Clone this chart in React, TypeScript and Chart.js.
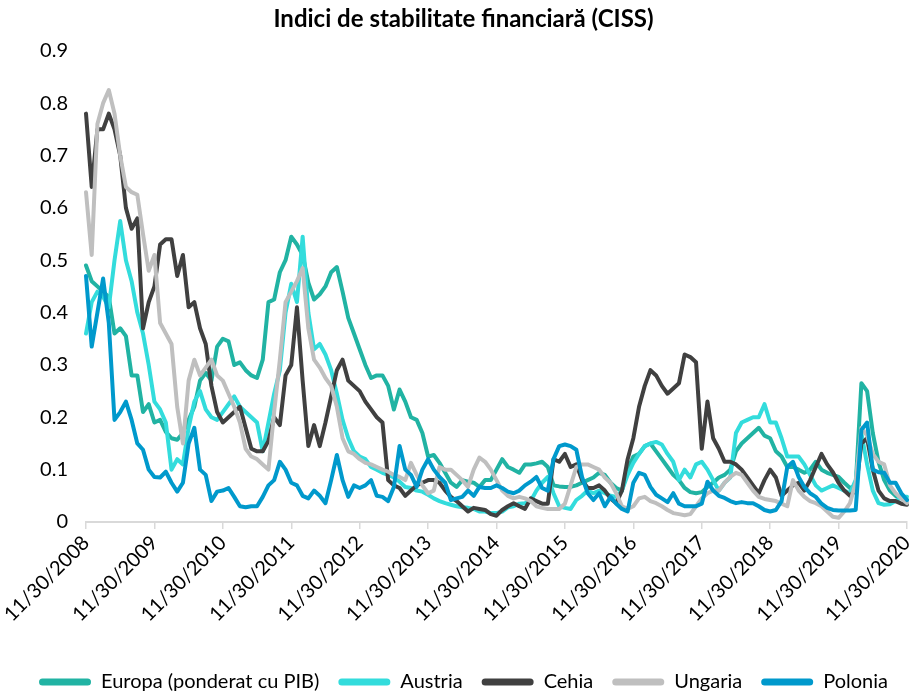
import React, { useEffect, useRef } from 'react';
import { Chart, registerables } from 'chart.js';

Chart.register(...registerables);

const TITLE = 'Indici de stabilitate financiară (CISS)';
const FONT = 'Lato, "DejaVu Sans", sans-serif';

// monthly categories: month-end dates from 11/30/2008 to 11/30/2020
const START_YEAR = 2008;
const START_MONTH = 11;
const MONTH_COUNT = 145;
const TICK_EVERY = 12;
const Y_TICKS = [0, 0.1, 0.2, 0.3, 0.4, 0.5, 0.6, 0.7, 0.8, 0.9];

function monthEnd(i: number): string {
  const m0 = START_MONTH - 1 + i;
  const y = START_YEAR + Math.floor(m0 / 12);
  const m = (m0 % 12) + 1;
  const d = new Date(y, m, 0).getDate();
  return `${m}/${d}/${y}`;
}
const LABELS: string[] = Array.from({ length: MONTH_COUNT }, (_, i) => monthEnd(i));

const SERIES_NAMES = ['Europa (ponderat cu PIB)', 'Austria', 'Cehia', 'Ungaria', 'Polonia'];
const SERIES_COLORS = ['#21b3a3', '#33dcdc', '#404040', '#bfbfbf', '#0099cc'];

const EUROPA = [
  0.49, 0.46, 0.45, 0.44, 0.43, 0.36, 0.37, 0.355, 0.28, 0.28, 0.21, 0.225,
  0.19, 0.195, 0.172, 0.16, 0.157, 0.17, 0.195, 0.22, 0.27, 0.285, 0.27, 0.335,
  0.35, 0.345, 0.30, 0.305, 0.29, 0.28, 0.275, 0.31, 0.42, 0.425, 0.477, 0.50,
  0.545, 0.53, 0.51, 0.457, 0.425, 0.435, 0.45, 0.477, 0.487, 0.44, 0.39, 0.36,
  0.33, 0.30, 0.275, 0.28, 0.28, 0.26, 0.215, 0.253, 0.23, 0.20, 0.195, 0.17,
  0.125, 0.128, 0.113, 0.094, 0.075, 0.067, 0.08, 0.077, 0.075, 0.067, 0.08, 0.08,
  0.10, 0.12, 0.105, 0.10, 0.094, 0.11, 0.11, 0.112, 0.115, 0.105, 0.07, 0.068,
  0.067, 0.067, 0.07, 0.075, 0.08, 0.085, 0.094, 0.09, 0.075, 0.065, 0.06, 0.10,
  0.125, 0.13, 0.145, 0.15, 0.135, 0.12, 0.105, 0.09, 0.08, 0.065, 0.057, 0.055,
  0.057, 0.067, 0.075, 0.085, 0.09, 0.10, 0.135, 0.15, 0.16, 0.17, 0.18, 0.165,
  0.16, 0.135, 0.125, 0.105, 0.105, 0.10, 0.094, 0.10, 0.115, 0.10, 0.094, 0.09,
  0.086, 0.075, 0.065, 0.07, 0.265, 0.25, 0.17, 0.115, 0.08, 0.06, 0.05, 0.045,
  0.042,
];

const AUSTRIA = [
  0.36, 0.42, 0.44, 0.43, 0.41, 0.50, 0.575, 0.50, 0.46, 0.40, 0.36, 0.30,
  0.23, 0.215, 0.19, 0.10, 0.12, 0.11, 0.18, 0.23, 0.25, 0.215, 0.20, 0.195,
  0.21, 0.225, 0.24, 0.22, 0.21, 0.20, 0.19, 0.135, 0.19, 0.245, 0.29, 0.40,
  0.455, 0.42, 0.545, 0.40, 0.33, 0.34, 0.32, 0.29, 0.245, 0.195, 0.16, 0.135,
  0.125, 0.12, 0.105, 0.10, 0.094, 0.09, 0.085, 0.077, 0.067, 0.065, 0.06, 0.058,
  0.052, 0.045, 0.04, 0.036, 0.033, 0.03, 0.028, 0.027, 0.025, 0.02, 0.02, 0.017,
  0.017, 0.02, 0.028, 0.03, 0.035, 0.036, 0.04, 0.06, 0.075, 0.086, 0.055, 0.03,
  0.027, 0.025, 0.042, 0.05, 0.06, 0.055, 0.06, 0.055, 0.05, 0.048, 0.06, 0.09,
  0.113, 0.13, 0.145, 0.15, 0.153, 0.148, 0.13, 0.115, 0.08, 0.10, 0.085, 0.11,
  0.115, 0.10, 0.08, 0.06, 0.075, 0.085, 0.17, 0.19, 0.195, 0.20, 0.20, 0.225,
  0.19, 0.19, 0.16, 0.125, 0.125, 0.125, 0.11, 0.09, 0.07, 0.06, 0.065, 0.07,
  0.065, 0.06, 0.055, 0.08, 0.17, 0.11, 0.06, 0.036, 0.033, 0.034, 0.04, 0.048,
  0.048,
];

const CEHIA = [
  0.78, 0.64, 0.75, 0.75, 0.78, 0.75, 0.70, 0.60, 0.56, 0.58, 0.37, 0.42,
  0.45, 0.53, 0.54, 0.54, 0.47, 0.51, 0.41, 0.42, 0.37, 0.34, 0.26, 0.21,
  0.19, 0.20, 0.21, 0.22, 0.18, 0.14, 0.135, 0.135, 0.155, 0.20, 0.185, 0.28,
  0.30, 0.41, 0.27, 0.145, 0.185, 0.145, 0.19, 0.24, 0.29, 0.31, 0.27, 0.26,
  0.25, 0.23, 0.215, 0.20, 0.19, 0.08, 0.07, 0.065, 0.05, 0.06, 0.07, 0.075,
  0.08, 0.08, 0.075, 0.06, 0.048, 0.04, 0.03, 0.02, 0.027, 0.025, 0.023, 0.015,
  0.012, 0.023, 0.03, 0.036, 0.03, 0.025, 0.045, 0.04, 0.035, 0.035, 0.12, 0.115,
  0.13, 0.105, 0.11, 0.08, 0.065, 0.065, 0.07, 0.06, 0.045, 0.036, 0.06, 0.12,
  0.16, 0.22, 0.26, 0.29, 0.28, 0.26, 0.245, 0.255, 0.265, 0.32, 0.315, 0.305,
  0.14, 0.23, 0.16, 0.14, 0.115, 0.115, 0.11, 0.10, 0.085, 0.07, 0.055, 0.08,
  0.10, 0.085, 0.05, 0.06, 0.07, 0.075, 0.06, 0.08, 0.105, 0.13, 0.11, 0.095,
  0.075, 0.06, 0.05, 0.06, 0.15, 0.16, 0.10, 0.06, 0.045, 0.04, 0.04, 0.035,
  0.033,
];

const UNGARIA = [
  0.63, 0.51, 0.76, 0.80, 0.825, 0.78, 0.70, 0.64, 0.63, 0.625, 0.55, 0.48,
  0.51, 0.38, 0.36, 0.34, 0.22, 0.15, 0.27, 0.31, 0.28, 0.295, 0.31, 0.28,
  0.27, 0.245, 0.22, 0.19, 0.14, 0.125, 0.12, 0.11, 0.10, 0.21, 0.31, 0.42,
  0.44, 0.46, 0.485, 0.37, 0.31, 0.295, 0.275, 0.26, 0.22, 0.16, 0.135, 0.13,
  0.12, 0.113, 0.11, 0.105, 0.10, 0.096, 0.09, 0.086, 0.08, 0.113, 0.09, 0.07,
  0.055, 0.06, 0.105, 0.10, 0.10, 0.09, 0.08, 0.067, 0.10, 0.123, 0.115, 0.10,
  0.08, 0.06, 0.05, 0.045, 0.048, 0.045, 0.04, 0.03, 0.027, 0.025, 0.025, 0.025,
  0.035, 0.07, 0.105, 0.11, 0.11, 0.105, 0.10, 0.085, 0.075, 0.055, 0.03, 0.025,
  0.03, 0.045, 0.048, 0.04, 0.036, 0.03, 0.023, 0.017, 0.015, 0.013, 0.015, 0.03,
  0.045, 0.055, 0.06, 0.06, 0.075, 0.086, 0.094, 0.09, 0.075, 0.06, 0.048, 0.044,
  0.042, 0.04, 0.035, 0.03, 0.08, 0.06, 0.048, 0.04, 0.036, 0.03, 0.02, 0.01,
  0.008, 0.02, 0.036, 0.075, 0.18, 0.165, 0.13, 0.115, 0.11, 0.07, 0.055, 0.045,
  0.036,
];

const POLONIA = [
  0.47, 0.335, 0.40, 0.465, 0.38, 0.195, 0.21, 0.23, 0.195, 0.15, 0.138, 0.10,
  0.086, 0.085, 0.096, 0.075, 0.058, 0.075, 0.15, 0.18, 0.10, 0.09, 0.04, 0.058,
  0.06, 0.065, 0.048, 0.03, 0.028, 0.03, 0.03, 0.048, 0.07, 0.08, 0.115, 0.10,
  0.075, 0.07, 0.05, 0.045, 0.06, 0.05, 0.036, 0.08, 0.128, 0.08, 0.048, 0.07,
  0.065, 0.07, 0.08, 0.05, 0.048, 0.04, 0.067, 0.145, 0.10, 0.09, 0.067, 0.10,
  0.12, 0.10, 0.086, 0.075, 0.042, 0.045, 0.048, 0.06, 0.05, 0.067, 0.065, 0.065,
  0.07, 0.065, 0.058, 0.055, 0.06, 0.07, 0.077, 0.086, 0.065, 0.06, 0.12, 0.145,
  0.148, 0.145, 0.138, 0.086, 0.055, 0.042, 0.055, 0.03, 0.048, 0.035, 0.025, 0.02,
  0.075, 0.094, 0.09, 0.067, 0.052, 0.045, 0.038, 0.055, 0.035, 0.03, 0.03, 0.03,
  0.035, 0.077, 0.06, 0.05, 0.046, 0.04, 0.036, 0.038, 0.036, 0.036, 0.03, 0.023,
  0.02, 0.023, 0.04, 0.105, 0.115, 0.086, 0.067, 0.055, 0.048, 0.035, 0.027, 0.023,
  0.022, 0.022, 0.022, 0.023, 0.176, 0.19, 0.10, 0.095, 0.094, 0.075, 0.075, 0.055,
  0.042,
];

const SERIES_VALUES = [EUROPA, AUSTRIA, CEHIA, UNGARIA, POLONIA];

export default function App() {
  const canvasRef = useRef<HTMLCanvasElement | null>(null);

  useEffect(() => {
    const canvas = canvasRef.current;
    if (!canvas) return;

    const datasets = SERIES_NAMES.map((name, i) => ({
      label: name,
      data: SERIES_VALUES[i],
      borderColor: SERIES_COLORS[i],
      backgroundColor: SERIES_COLORS[i],
      borderWidth: 4,
      pointRadius: 0,
      pointHoverRadius: 0,
      tension: 0,
      fill: false,
      borderJoinStyle: 'round' as const,
      borderCapStyle: 'round' as const,
      order: SERIES_NAMES.length - i,
    }));

    const chart = new Chart(canvas, {
      type: 'line',
      data: { labels: LABELS, datasets },
      options: {
        animation: false,
        responsive: false,
        devicePixelRatio: 1,
        layout: { padding: { left: 20, right: 2, top: 5, bottom: -10 } },
        plugins: {
          title: {
            display: true,
            text: TITLE,
            color: '#000000',
            font: { family: FONT, size: 24, weight: 'bold' },
            padding: { top: 0, bottom: 17 },
          },
          legend: {
            position: 'bottom',
            labels: {
              font: { family: FONT, size: 20 },
              color: '#000000',
              boxWidth: 52,
              boxHeight: 7,
              padding: 19,
              useBorderRadius: true,
              borderRadius: 3.5,
              sort: (a: any, b: any) => a.datasetIndex - b.datasetIndex,
              generateLabels: (ch: any) => {
                const items = Chart.defaults.plugins.legend.labels.generateLabels(ch);
                return items.map((it: any) => ({
                  ...it,
                  text: SERIES_NAMES[it.datasetIndex],
                  fillStyle: SERIES_COLORS[it.datasetIndex],
                  strokeStyle: SERIES_COLORS[it.datasetIndex],
                  lineWidth: 0,
                }));
              },
            },
          },
          tooltip: { enabled: false },
        },
        scales: {
          x: {
            type: 'category',
            offset: false,
            grid: {
              display: true,
              drawOnChartArea: false,
              drawTicks: true,
              tickLength: 7,
              color: '#d9d9d9',
              lineWidth: 1.5,
            },
            border: { display: true, color: '#d9d9d9', width: 2 },
            ticks: {
              autoSkip: false,
              maxRotation: 45,
              minRotation: 45,
              padding: 2,
              color: '#000000',
              font: { family: FONT, size: 20 },
              callback: (_v: any, index: number) =>
                index % TICK_EVERY === 0 ? LABELS[index] : null,
            },
            afterFit: (scale: any) => {
              scale.height = 131;
              scale.paddingRight = 0;
            },
          },
          y: {
            min: Y_TICKS[0],
            max: Y_TICKS[Y_TICKS.length - 1],
            grid: { display: false, drawTicks: false },
            border: { display: false },
            afterBuildTicks: (scale: any) => {
              scale.ticks = Y_TICKS.map((v) => ({ value: v }));
            },
            ticks: {
              padding: 18,
              color: '#000000',
              font: { family: FONT, size: 20 },
              callback: (v: any) => (Number(v) === 0 ? '0' : Number(v).toFixed(1)),
            },
            afterFit: (scale: any) => {
              scale.width = 66;
            },
          },
        },
      },
    });

    return () => {
      chart.destroy();
    };
  }, []);

  return (
    <div
      style={{
        position: 'fixed',
        left: 0,
        top: 0,
        width: 909,
        height: 692,
        background: '#ffffff',
      }}
    >
      <canvas ref={canvasRef} width={909} height={692} style={{ display: 'block' }} />
    </div>
  );
}
